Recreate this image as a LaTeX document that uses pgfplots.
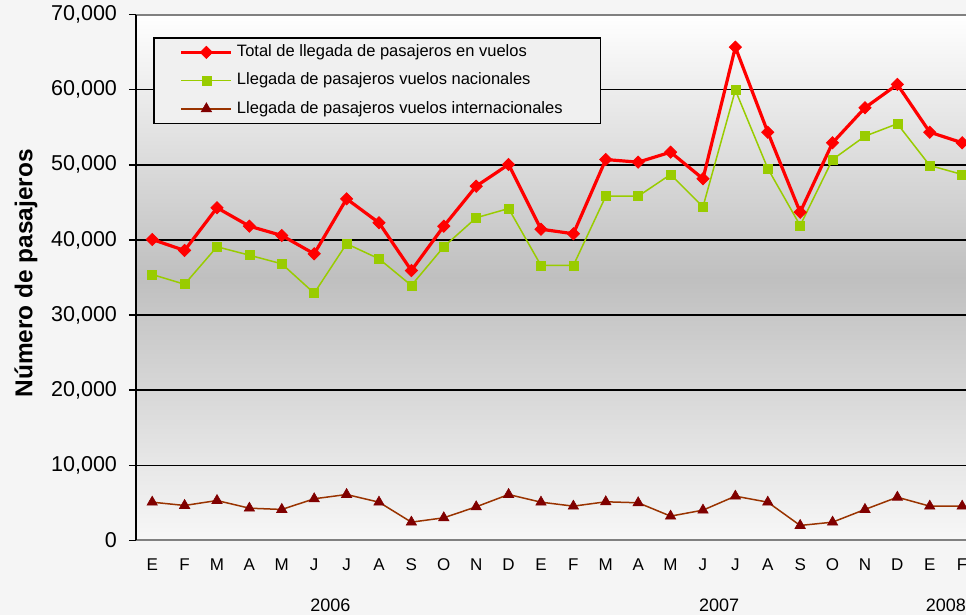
\documentclass[border=0pt]{standalone}
\usepackage{fontspec}
\setmainfont{Liberation Sans}
\usepackage{pgfplots}
\usepackage{pgfplotstable}
\pgfplotsset{compat=1.18}

\definecolor{totred}{HTML}{FF0000}
\definecolor{nacgreen}{HTML}{99CC00}
\definecolor{intline}{HTML}{993300}
\definecolor{intmark}{HTML}{800000}

% month index, total, nacionales, internacionales
\pgfplotstableread{
idx total nac int
0  40060 35400 5100
1  38600 34100 4660
2  44280 39090 5320
3  41830 37970 4300
4  40590 36820 4130
5  38150 32910 5550
6  45470 39490 6120
7  42280 37490 5100
8  35930 33940 2440
9  41830 39090 3020
10 47150 42950 4480
11 50040 44180 6120
12 41430 36600 5100
13 40820 36600 4570
14 50700 45820 5150
15 50350 45820 5020
16 51680 48710 3240
17 48140 44410 4040
18 65650 59930 5900
19 54340 49510 5100
20 43690 41920 2000
21 52930 50700 2440
22 57590 53810 4130
23 60690 55460 5760
24 54340 49910 4570
25 52930 48710 4570
}\datos

\begin{document}
\begin{tikzpicture}
\fill[gray!8] (-68pt,-37.25pt) rectangle (415pt,270.25pt);
\path[use as bounding box] (-68pt,-37.25pt) rectangle (415pt,270.25pt);
\begin{axis}[
  scale only axis,
  width=416pt, height=263pt,
  xmin=-0.5, xmax=25.18,
  ymin=0, ymax=70000,
  clip=false,
  axis background/.style={shade, top color=white, bottom color=gray!6, middle color=gray!50},
  separate axis lines,
  x axis line style={draw=gray, line width=1pt},
  y axis line style={draw=black, line width=1pt},
  ytick={10000,20000,...,60000},
  extra y ticks={0,70000},
  extra y tick style={grid=none},
  ymajorgrids,
  major grid style={black, line width=0.8pt},
  ytick pos=left,
  ytick align=outside,
  xtick align=inside,
  major tick length=3.5pt,
  ytick style={black, line width=0.8pt},
  xtick style={draw=none},
  scaled y ticks=false,
  /pgf/number format/.cd, 1000 sep={,}, assume math mode=true,
  /pgfplots/.cd,
  yticklabel style={font=\fontsize{10.75}{12}\selectfont, xshift=-2.5pt},
  xtick={0,...,25},
  xticklabels={E,F,M,A,M,J,J,A,S,O,N,D,E,F,M,A,M,J,J,A,S,O,N,D,E,F},
  xticklabel style={font=\fontsize{8.5}{10}\selectfont, anchor=base, yshift=-15.25pt},
  legend style={at={(0,1)}, anchor=north west, xshift=8.5pt, yshift=-11.25pt,
    fill=gray!12, draw=black, line width=0.8pt,
    font=\fontsize{8.25}{10}\selectfont,
    inner xsep=13pt, inner ysep=1.5pt, row sep=2.5pt,
    nodes={text height=5.9pt, text depth=1.7pt}},
  legend cell align=left,
  legend image code/.code={
    \draw[mark repeat=2, mark phase=2] plot coordinates {(0pt,0pt) (12.5pt,0pt) (25pt,0pt)};
  },
]
\addplot[totred, line width=1.6pt, mark=square*, mark size=2.15pt,
  mark options={solid, rotate=45, line width=0.4pt, fill=totred}] table[x=idx, y=total] {\datos};
\addlegendentry{Total de llegada de pasajeros en vuelos}
\addplot[nacgreen, line width=0.75pt, mark=square*, mark size=2.25pt,
  mark options={solid, line width=0.3pt, fill=nacgreen}] table[x=idx, y=nac] {\datos};
\addlegendentry{Llegada de pasajeros vuelos nacionales}
\addplot[intline, line width=0.75pt, mark=triangle*, mark size=3pt,
  mark options={solid, line width=0.3pt, draw=intmark, fill=intmark}] table[x=idx, y=int] {\datos};
\addlegendentry{Llegada de pasajeros vuelos internacionales\rule{4pt}{0pt}}

\node[font=\fontsize{9}{10}\selectfont, anchor=base] at (axis cs:5.5,0) [yshift=-35.5pt] {2006};
\node[font=\fontsize{9}{10}\selectfont, anchor=base] at (axis cs:17.5,0) [yshift=-35.5pt] {2007};
\node[font=\fontsize{9}{10}\selectfont, anchor=base] at (axis cs:24.5,0) [yshift=-35.5pt] {2008};
\node[xshift=-55pt, rotate=90, font=\bfseries\fontsize{12.2}{14}\selectfont] at (rel axis cs:0,0.508) {Número de pasajeros};
\end{axis}
\end{tikzpicture}
\end{document}
